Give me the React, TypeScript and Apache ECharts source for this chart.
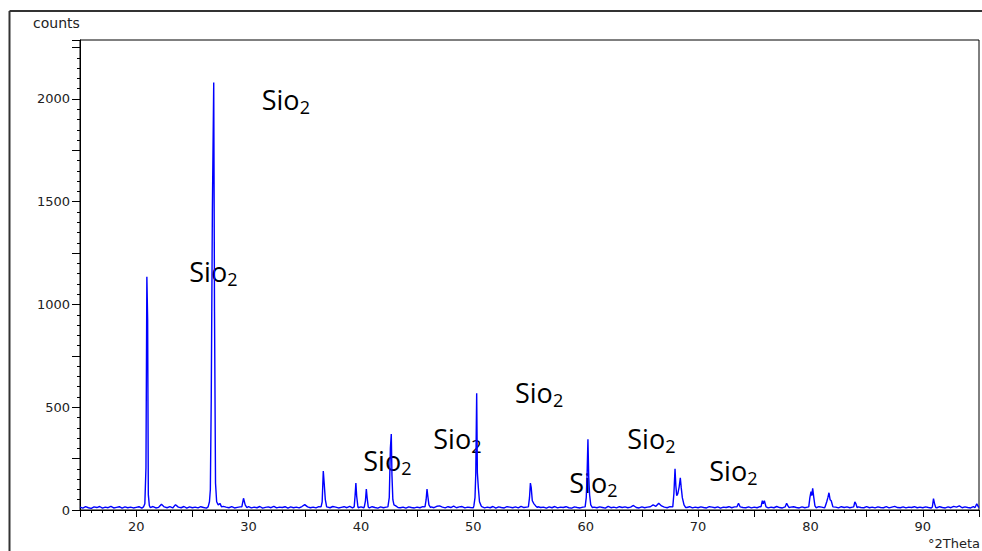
import React, { useEffect, useRef } from 'react';
import * as echarts from 'echarts';

// ---- data ----
const X_START = 15;
const X_STEP = 0.25;
// background counts every 0.25 °2Theta from 15 to 95
const baseline = [
  14, 9, 16, 11, 8, 15, 12, 17, 9, 14, 11, 18, 10, 13, 16, 9, 15, 11, 14, 10,
  13, 16, 9, 15, 11, 14, 17, 10, 13, 28, 15, 11, 16, 10, 26, 14, 11, 17, 9, 15,
  11, 14, 10, 16, 12, 9, 15, 11, 25, 28, 22, 18, 14, 11, 16, 10, 13, 15, 9, 14,
  16, 10, 14, 11, 17, 9, 13, 15, 11, 18, 10, 14, 12, 16, 9, 15, 11, 14, 10, 17,
  26, 15, 11, 14, 10, 16, 12, 9, 15, 11, 17, 14, 10, 13, 16, 11, 18, 10, 14, 11,
  15, 11, 14, 10, 16, 12, 9, 15, 11, 14, 18, 12, 10, 16, 11, 14, 9, 15, 12, 10,
  14, 11, 16, 12, 10, 15, 11, 18, 20, 14, 10, 16, 12, 19, 11, 15, 17, 10, 14, 12,
  11, 15, 12, 16, 10, 14, 11, 17, 9, 15, 12, 10, 16, 14, 11, 15, 10, 18, 12, 14,
  11, 15, 10, 16, 12, 14, 9, 15, 11, 17, 10, 14, 12, 16, 11, 9, 15, 12, 10, 14,
  12, 16, 10, 14, 11, 15, 12, 9, 18, 11, 14, 10, 16, 12, 15, 11, 14, 22, 12, 10,
  15, 11, 14, 16, 25, 18, 33, 20, 14, 11, 16, 12, 10, 15, 11, 14, 12, 16, 10, 14,
  11, 15, 12, 10, 16, 14, 11, 15, 9, 14, 12, 16, 11, 15, 10, 14, 12, 11, 15, 10,
  14, 11, 16, 12, 15, 10, 14, 11, 17, 12, 10, 15, 11, 14, 16, 12, 10, 15, 11, 14,
  12, 15, 11, 16, 14, 10, 15, 12, 11, 14, 10, 16, 12, 15, 11, 14, 10, 15, 12, 11,
  16, 11, 14, 10, 15, 12, 11, 16, 10, 14, 18, 12, 11, 15, 10, 14, 12, 16, 11, 14,
  11, 15, 12, 10, 14, 11, 16, 12, 10, 15, 11, 18, 14, 20, 11, 15, 12, 10, 16, 14,
  12,
];

// reflections [°2Theta, counts]
const peak20 = [[20.65, 15], [20.77, 30], [20.87, 205], [20.95, 1135], [21.02, 925], [21.08, 75], [21.17, 22], [21.25, 12]];
const peak26 = [[26.4, 15], [26.52, 40], [26.6, 100], [26.68, 545], [26.78, 1460], [26.9, 2080], [26.97, 965], [27.06, 130], [27.16, 40], [27.3, 25], [27.45, 32], [27.6, 15]];
const peak29 = [[29.4, 15], [29.55, 57], [29.7, 25], [29.85, 12]];
const peak36 = [[36.45, 15], [36.55, 40], [36.65, 190], [36.73, 130], [36.83, 50], [36.95, 15]];
const peak39 = [[39.4, 15], [39.48, 70], [39.55, 131], [39.62, 68], [39.72, 20]];
const peak40 = [[40.3, 15], [40.4, 45], [40.48, 102], [40.55, 60], [40.65, 15]];
const peak42 = [[42.4, 15], [42.52, 60], [42.62, 300], [42.7, 370], [42.76, 170], [42.84, 50], [42.94, 25], [43.1, 20], [43.3, 12]];
const peak45 = [[45.7, 15], [45.8, 50], [45.88, 102], [45.95, 68], [46.05, 25], [46.2, 12]];
const peak50 = [[50.05, 20], [50.15, 60], [50.22, 180], [50.3, 568], [50.36, 182], [50.45, 107], [50.55, 40], [50.7, 20]];
const peak55 = [[54.9, 15], [55.0, 60], [55.08, 131], [55.15, 110], [55.25, 45], [55.4, 30], [55.55, 20], [55.7, 12]];
const peak60 = [[59.95, 15], [60.05, 60], [60.12, 162], [60.2, 344], [60.27, 162], [60.35, 73], [60.45, 25], [60.6, 12]];
const peak68 = [[67.75, 15], [67.85, 80], [67.95, 200], [68.02, 120], [68.1, 70], [68.2, 80], [68.32, 113], [68.42, 156], [68.5, 110], [68.6, 60], [68.75, 25], [68.9, 12]];
const peak73 = [[73.45, 15], [73.6, 33], [73.75, 15]];
const peak75 = [[75.6, 15], [75.72, 45], [75.8, 30], [75.9, 45], [76.05, 15]];
const peak77 = [[77.75, 15], [77.88, 33], [78.0, 20], [78.1, 12]];
const peak80 = [[79.85, 15], [79.95, 60], [80.05, 90], [80.12, 70], [80.2, 105], [80.3, 60], [80.4, 20]];
const peak81 = [[81.3, 15], [81.45, 40], [81.55, 60], [81.65, 84], [81.75, 50], [81.85, 45], [82.0, 15]];
const peak84 = [[83.85, 15], [83.95, 40], [84.05, 30], [84.15, 12]];
const peak91 = [[90.85, 15], [90.95, 55], [91.05, 30], [91.15, 12]];
const peak94 = [[94.65, 12], [94.8, 30], [94.95, 15]];

const peaks = [peak20, peak26, peak29, peak36, peak39, peak40, peak42, peak45, peak50, peak55,
  peak60, peak68, peak73, peak75, peak77, peak80, peak81, peak84, peak91, peak94];

const annotationMain = 'Sio';
const annotationSub = '2';

// ---- build series ----
function buildData(): number[][] {
  const ranges = peaks.map((p) => [p[0][0], p[p.length - 1][0]]);
  const pts: number[][] = [];
  baseline.forEach((v, i) => {
    const x = +(X_START + i * X_STEP).toFixed(2);
    if (!ranges.some(([a, b]) => x >= a && x <= b)) pts.push([x, v]);
  });
  peaks.forEach((p) => p.forEach((pt) => pts.push(pt)));
  pts.sort((a, b) => a[0] - b[0]);
  return pts;
}

// label positions (layout, px): [left, baseline]
const ANNOT_LAYOUT = [
  [261.7, 110], [189.3, 282], [363.3, 471], [433.3, 449],
  [515, 403.3], [569.3, 493.3], [627.3, 449.3], [709.3, 481],
];

const LABEL_FONT = '"DejaVu Sans", sans-serif';
const ANNOT_FONT = '"Open Sans", sans-serif';

export default function App() {
  const ref = useRef<HTMLDivElement>(null);
  useEffect(() => {
    if (!ref.current) return;
    const chart = echarts.init(ref.current, undefined, { renderer: 'svg' });
    const annotGraphics = ANNOT_LAYOUT.map(([x, y]) => ({
      type: 'group',
      children: [
        {
          type: 'text', x, y: y - 10.5,
          style: { text: annotationMain, font: `27px ${ANNOT_FONT}`, fill: '#000', align: 'left', verticalAlign: 'middle' },
        },
        {
          type: 'text', x: x + 38, y: y - 3.5,
          style: { text: annotationSub, font: `18px ${ANNOT_FONT}`, fill: '#000', align: 'left', verticalAlign: 'middle' },
        },
      ],
    }));
    chart.setOption({
      animation: false,
      backgroundColor: '#fff',
      grid: { left: 80, right: 3, top: 40, bottom: 41, show: true, borderColor: '#000', borderWidth: 1, backgroundColor: 'transparent' },
      xAxis: {
        type: 'value', min: 15, max: 95, interval: 5,
        axisLine: { show: true, onZero: false, lineStyle: { color: '#000', width: 1 } },
        axisTick: { show: true, inside: false, length: 7, lineStyle: { color: '#000' } },
        minorTick: { show: true, splitNumber: 5, length: 3, lineStyle: { color: '#000' } },
        splitLine: { show: false },
        axisLabel: {
          margin: 10, color: '#222', fontFamily: LABEL_FONT, fontSize: 13,
          formatter: (v: number) => (v % 10 === 0 ? String(v) : ''),
        },
      },
      yAxis: {
        type: 'value', min: 0, max: 2287, interval: 250,
        axisLine: { show: true, lineStyle: { color: '#000', width: 1 } },
        axisTick: { show: true, inside: false, length: 8, lineStyle: { color: '#000' } },
        minorTick: { show: true, splitNumber: 5, length: 3, lineStyle: { color: '#000' } },
        splitLine: { show: false },
        axisLabel: {
          margin: 10, color: '#222', fontFamily: LABEL_FONT, fontSize: 13,
          formatter: (v: number) => (v % 500 === 0 ? String(v) : ''),
        },
      },
      series: [{
        type: 'line', data: buildData(), showSymbol: false, symbol: 'none',
        lineStyle: { color: '#0000ff', width: 1.4 }, clip: true,
      }],
      graphic: [
        { type: 'line', shape: { x1: 9.5, y1: 11, x2: 990, y2: 11 }, style: { stroke: '#333', lineWidth: 2 } },
        { type: 'line', shape: { x1: 9.5, y1: 11, x2: 9.5, y2: 560 }, style: { stroke: '#333', lineWidth: 2 } },
        { type: 'text', x: 33, y: 23, style: { text: 'counts', font: `14px ${LABEL_FONT}`, fill: '#222', verticalAlign: 'middle' } },
        { type: 'text', x: 928, y: 543, style: { text: '°2Theta', font: `13px ${LABEL_FONT}`, fill: '#222', verticalAlign: 'middle' } },
        ...annotGraphics,
      ],
    });
    return () => chart.dispose();
  }, []);
  return <div ref={ref} style={{ position: 'fixed', left: 0, top: 0, width: 982, height: 551 }} />;
}
